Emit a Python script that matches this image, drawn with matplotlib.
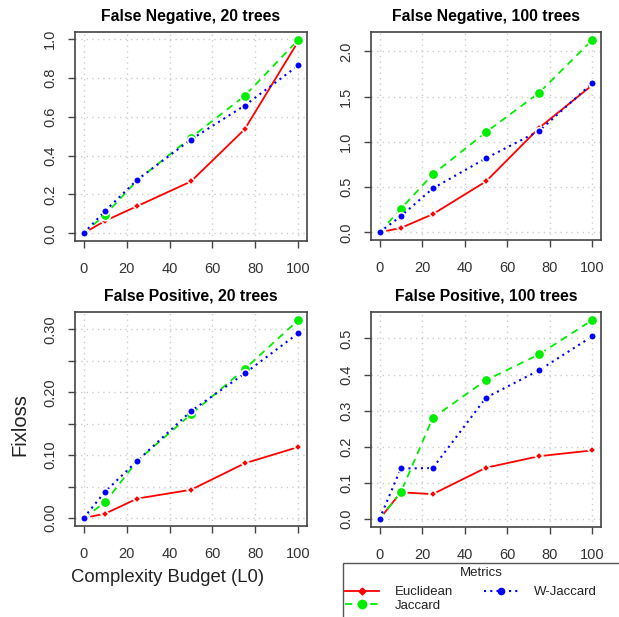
import numpy as np
import matplotlib
matplotlib.use("Agg")
import matplotlib.pyplot as plt
from matplotlib.patches import Rectangle
from matplotlib.ticker import FixedLocator, FuncFormatter

plt.rcParams['font.family'] = ['Liberation Sans', 'DejaVu Sans']

budget = [0, 10, 25, 50, 75, 100]

# False Negative, 20 trees
fn20_euc = [0, 0.064, 0.14, 0.267, 0.536, 0.99]
fn20_jac = [0, 0.095, 0.273, 0.493, 0.708, 0.997]
fn20_wj = [0, 0.115, 0.276, 0.483, 0.658, 0.865]

# False Negative, 100 trees
fn100_euc = [0, 0.048, 0.2, 0.563, 1.156, 1.63]
fn100_jac = [0, 0.26, 0.64, 1.107, 1.544, 2.13]
fn100_wj = [0, 0.178, 0.485, 0.819, 1.122, 1.652]

# False Positive, 20 trees
fp20_euc = [0, 0.007, 0.031, 0.045, 0.087, 0.113]
fp20_jac = [0, 0.025, 0.091, 0.165, 0.237, 0.315]
fp20_wj = [0, 0.042, 0.091, 0.170, 0.230, 0.294]

# False Positive, 100 trees
fp100_euc = [0, 0.074, 0.069, 0.142, 0.174, 0.19]
fp100_jac = [0, 0.074, 0.28, 0.384, 0.456, 0.551]
fp100_wj = [0, 0.14, 0.141, 0.336, 0.412, 0.506]

titles = ["False Negative, 20 trees", "False Negative, 100 trees",
          "False Positive, 20 trees", "False Positive, 100 trees"]
series = [(fn20_euc, fn20_jac, fn20_wj), (fn100_euc, fn100_jac, fn100_wj),
          (fp20_euc, fp20_jac, fp20_wj), (fp100_euc, fp100_jac, fp100_wj)]
yticks = [np.arange(0, 1.01, 0.2), np.arange(0, 2.01, 0.5),
          np.arange(0, 0.301, 0.05), np.arange(0, 0.501, 0.1)]
xticks = [0, 20, 40, 60, 80, 100]

W, H = 619, 617
# axes boxes in pixels: left, right, top, bottom
boxes = [(75, 307, 32, 241), (371, 601, 32, 240),
         (75, 307, 312, 526), (371, 601, 312, 527)]

fig = plt.figure(figsize=(W / 100, H / 100), dpi=100)
edge = '#444444'
txt = '#333333'


def fmt_fp20(v, p):
    # R drops the labels that would collide: only every other one shows
    if abs(v * 10 - round(v * 10)) < 1e-6:
        return "%.2f" % v
    return ""


for i in range(4):
    l, r, t, b = boxes[i]
    ax = fig.add_axes([l / W, 1 - b / H, (r - l) / W, (b - t) / H])
    euc, jac, wj = series[i]
    ax.plot(budget, euc, color='red', ls='-', lw=1.3, marker='D', ms=4,
            mec='white', mew=1.2)
    ax.plot(budget, jac, color='#00ee00', ls=(0, (4, 3)), lw=1.3, marker='o',
            ms=7.5, mec='white', mew=1.2)
    ax.plot(budget, wj, color='blue', ls=(0, (1, 2)), lw=1.5, marker='o',
            ms=5.5, mec='white', mew=1.2)
    ax.margins(x=0.04, y=0.04)
    ax.set_title(titles[i], fontsize=11.3, fontweight='bold', pad=8)
    ax.xaxis.set_major_locator(FixedLocator(xticks))
    ax.yaxis.set_major_locator(FixedLocator(yticks[i]))
    if i == 2:
        ax.yaxis.set_major_formatter(FuncFormatter(fmt_fp20))
    else:
        ax.yaxis.set_major_formatter(FuncFormatter(lambda v, p: "%.1f" % v))
    ax.grid(True, color='#cccccc', ls=(0, (1, 3)), lw=1)
    ax.set_axisbelow(True)
    for s in ax.spines.values():
        s.set_color(edge)
        s.set_linewidth(1.2)
    ax.tick_params(colors=edge, labelcolor=txt, labelsize=10.5, length=5,
                   width=1, pad=8)
    ax.tick_params(axis='x', pad=10)
    for lab in ax.get_yticklabels():
        lab.set_rotation(90)
        lab.set_va('center')

fig.text(20 / W, 1 - 425 / H, "Fixloss", rotation=90, fontsize=14.5,
         ha='center', va='center', color='#222222')
fig.text(168 / W, 1 - 578 / H, "Complexity Budget (L0)", fontsize=13.3,
         ha='center', va='center', color='#222222')

# legend frame extends past the figure edge, as in the original
fig.patches.append(Rectangle((343 / W, 1 - 640 / H), 300 / W, 77 / H,
                             transform=fig.transFigure, fill=False,
                             ec='#555555', lw=1.0))
fig.text(481 / W, 1 - 573 / H, "Metrics", fontsize=9.5, ha='center',
         va='center', color='#222222')
h1, = plt.plot([], [], color='red', ls='-', lw=1.3, marker='D', ms=3.5)
h2, = plt.plot([], [], color='#00ee00', ls=(0, (4, 3)), lw=1.3, marker='o', ms=6)
h3, = plt.plot([], [], color='blue', ls=(0, (1, 2)), lw=1.5, marker='o', ms=4.5)
leg = fig.legend([h1, h2, h3], ["Euclidean", "Jaccard", "W-Jaccard"],
                 ncol=2, frameon=False, fontsize=9.5, loc='upper left',
                 bbox_to_anchor=(345 / W, 1 - 586 / H), borderaxespad=0,
                 borderpad=0, handlelength=2.6, handletextpad=1.2,
                 columnspacing=2.3, labelspacing=0.1)
for t_ in leg.get_texts():
    t_.set_color('#222222')

fig.savefig("out.png", dpi=100)
